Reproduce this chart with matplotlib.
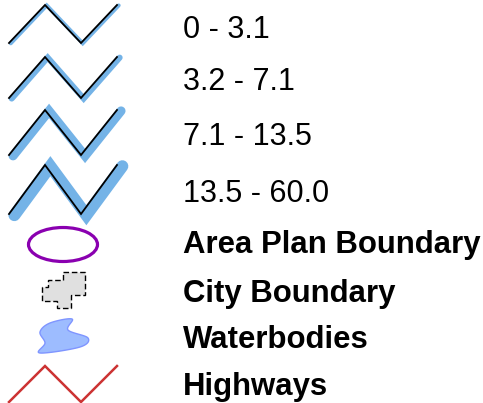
import numpy as np
import matplotlib
matplotlib.use("Agg")
import matplotlib.pyplot as plt
from matplotlib.patches import Ellipse, Polygon

plt.rcParams['font.family'] = ['Liberation Sans', 'DejaVu Sans']

# legend entries
range_labels = ["0 - 3.1", "3.2 - 7.1", "7.1 - 13.5", "13.5 - 60.0"]
range_widths = [2.8, 4.3, 6.5, 8.6]          # blue band width (pt)
range_tops = [5, 57, 110, 165]              # zigzag top (px)
range_heights = [38, 41, 45, 49]            # zigzag depth (px)
range_baselines = [38, 90, 145, 202]

other_labels = ["Area Plan Boundary", "City Boundary", "Waterbodies", "Highways"]
other_baselines = [253, 302, 348, 395]

zig_x = [9, 45, 81, 117]
zig_y = [1, 0, 1, 0]

city_x = [63, 85, 85, 71, 71, 57, 57, 42, 42, 48, 48, 63]
city_y = [272, 272, 295, 295, 308, 308, 301, 301, 287, 287, 280, 280]

water_x = [50, 72, 68, 88, 80, 40, 45, 40]
water_y = [323, 319, 330, 338, 347, 353, 343, 332]

BLUE = "#74b3e7"
TEXT_X = 183

fig = plt.figure(figsize=(4.83, 4.03), dpi=100)
ax = fig.add_axes([0, 0, 1, 1])
ax.set_xlim(0, 483)
ax.set_ylim(403, 0)
ax.axis("off")

zx = np.array(zig_x, dtype=float)
zy = np.array(zig_y, dtype=float)

for lab, w, top, h, base in zip(range_labels, range_widths, range_tops,
                                range_heights, range_baselines):
    ys = top + zy * h
    wpx = w / 0.72
    # blue band offset so the black line runs along its left edge
    ax.plot(zx + wpx * 0.45, ys + wpx * 0.1, color=BLUE, lw=w,
            solid_capstyle="round", solid_joinstyle="miter")
    ax.plot(zx, ys, color="black", lw=1.3, solid_joinstyle="miter")
    ax.text(TEXT_X, base, lab, fontsize=22, va="baseline", ha="left")

# area plan boundary
ax.add_patch(Ellipse((63, 244.5), 69, 34, fill=False, ec="#8a00b0", lw=2.3))

# city boundary
ax.add_patch(Polygon(np.column_stack([city_x, city_y]), closed=True,
                     fc="#e0e0e0", ec="black", lw=1.0, ls=(0, (4, 2))))


# waterbodies: smooth closed curve through the outline points
def smooth_closed(xs, ys, n=20):
    pts = np.column_stack([xs, ys]).astype(float)
    m = len(pts)
    out = []
    for i in range(m):
        p0, p1, p2, p3 = pts[i - 1], pts[i], pts[(i + 1) % m], pts[(i + 2) % m]
        for t in np.linspace(0, 1, n, endpoint=False):
            t2, t3 = t * t, t * t * t
            out.append(0.5 * ((2 * p1) + (-p0 + p2) * t +
                              (2 * p0 - 5 * p1 + 4 * p2 - p3) * t2 +
                              (-p0 + 3 * p1 - 3 * p2 + p3) * t3))
    return np.array(out)


wpts = smooth_closed(water_x, water_y)
ax.add_patch(Polygon(wpts, closed=True, fc="#9dbcff", ec="#7f95ff", lw=1.0))

# highways
ax.plot(zx, 366 + zy * 36, color="#cc3333", lw=1.8, solid_joinstyle="miter")

for lab, base in zip(other_labels, other_baselines):
    ax.text(TEXT_X, base, lab, fontsize=22.4, va="baseline", ha="left",
            fontweight="bold")

fig.savefig("out.png", dpi=100)
